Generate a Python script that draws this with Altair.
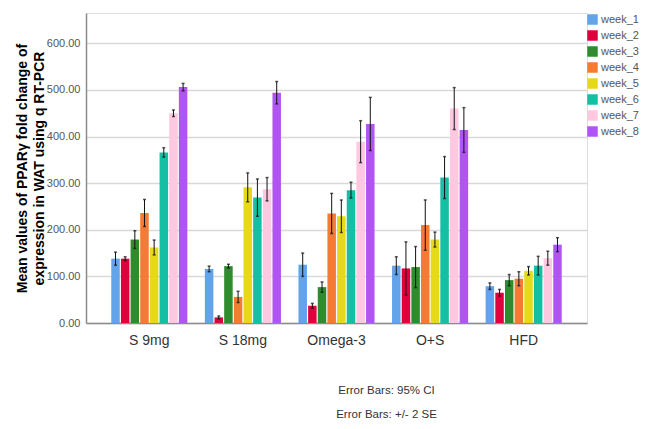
import altair as alt
import pandas as pd

groups = ["S 9mg", "S 18mg", "Omega-3", "O+S", "HFD"]
weeks = ["week_1", "week_2", "week_3", "week_4", "week_5", "week_6", "week_7", "week_8"]
colors = ["#62A3E9", "#E0003C", "#2E8B2E", "#F57A34", "#E6D91C", "#14BFA3", "#FEC8E1", "#B155F2"]

means_s9 = [138, 138, 179, 236, 162, 366, 450, 506]
means_s18 = [116, 12, 122, 56, 291, 269, 287, 494]
means_o3 = [125, 37, 77, 235, 229, 285, 389, 427]
means_os = [123, 117, 120, 210, 179, 312, 460, 414]
means_hfd = [79, 65, 92, 95, 112, 123, 139, 168]

err_s9 = [14, 4, 19, 29, 16, 10, 7, 8]
err_s18 = [6, 3, 4, 12, 31, 40, 25, 24]
err_o3 = [25, 5, 11, 43, 35, 17, 45, 57]
err_os = [19, 57, 44, 54, 16, 45, 45, 48]
err_hfd = [7, 7, 12, 15, 9, 20, 15, 15]

y_ticks = [0, 100, 200, 300, 400, 500, 600]

all_means = [means_s9, means_s18, means_o3, means_os, means_hfd]
all_errs = [err_s9, err_s18, err_o3, err_os, err_hfd]

rows = []
for g, ms, es in zip(groups, all_means, all_errs):
    for w, m, e in zip(weeks, ms, es):
        rows.append({"group": g, "week": w, "mean": m, "lo": m - e, "hi": m + e})
df = pd.DataFrame(rows)

FONT = "Liberation Sans"

x_enc = alt.X(
    "group:N",
    sort=groups,
    scale=alt.Scale(paddingInner=0.187, paddingOuter=0.27),
    axis=alt.Axis(
        title=None, labelAngle=0, labelFontSize=14, labelColor="#333333",
        labelPadding=10, ticks=False, domainColor="#8c8c8c", domainWidth=1.5,
        labelFont=FONT,
    ),
)
xo_enc = alt.XOffset("week:N", sort=weeks, scale=alt.Scale(paddingInner=0.12))

base = alt.Chart(df)

bars = base.mark_bar().encode(
    x=x_enc,
    xOffset=xo_enc,
    y=alt.Y(
        "mean:Q",
        scale=alt.Scale(domain=[0, 665], nice=False),
        axis=alt.Axis(
            values=y_ticks, format=".2f",
            title=["Mean values of PPARγ fold change of", "expression in WAT using q RT-PCR"],
            titleFontSize=14, titleFontWeight="bold", titleColor="#000000",
            titleLineHeight=17, titleFont=FONT, titlePadding=0,
            labelFontSize=11, labelColor="#555555", labelPadding=6, labelFont=FONT,
            ticks=False, domainColor="#8c8c8c", domainWidth=1.5,
            gridColor="#d9d9d9", gridWidth=1.5,
        ),
    ),
    color=alt.Color(
        "week:N", sort=weeks,
        scale=alt.Scale(domain=weeks, range=colors),
        legend=alt.Legend(
            title=None, orient="none", legendX=501, legendY=1,
            symbolType="square", symbolSize=110, symbolStrokeWidth=0,
            labelFontSize=11, labelColor="#555555", labelFont=FONT,
            rowPadding=4, labelOffset=3, labelLimit=200,
        ),
    ),
)

rules = base.mark_rule(color="#111111", strokeWidth=1).encode(
    x=x_enc, xOffset=xo_enc, y="lo:Q", y2="hi:Q"
)
caps_lo = base.mark_tick(color="#111111", size=3, thickness=1.5).encode(
    x=x_enc, xOffset=xo_enc, y="lo:Q"
)
caps_hi = base.mark_tick(color="#111111", size=3, thickness=1.5).encode(
    x=x_enc, xOffset=xo_enc, y="hi:Q"
)

chart = (
    alt.layer(bars, rules, caps_lo, caps_hi)
    .properties(
        width=501, height=310,
        autosize=alt.AutoSizeParams(type="none"),
        padding={"left": 78, "top": 5, "right": 53, "bottom": 98},
        title=alt.TitleParams(
            text=["Error Bars: 95% CI", "Error Bars: +/- 2 SE"],
            orient="bottom", anchor="middle", fontSize=11.5, fontWeight="normal",
            color="#333333", lineHeight=24, dx=50, offset=38, font=FONT,
        ),
    )
    .configure_view(stroke=None)
    .configure(background="#ffffff")
)

chart.save("out.html", embed_options={"renderer": "svg", "actions": False})
